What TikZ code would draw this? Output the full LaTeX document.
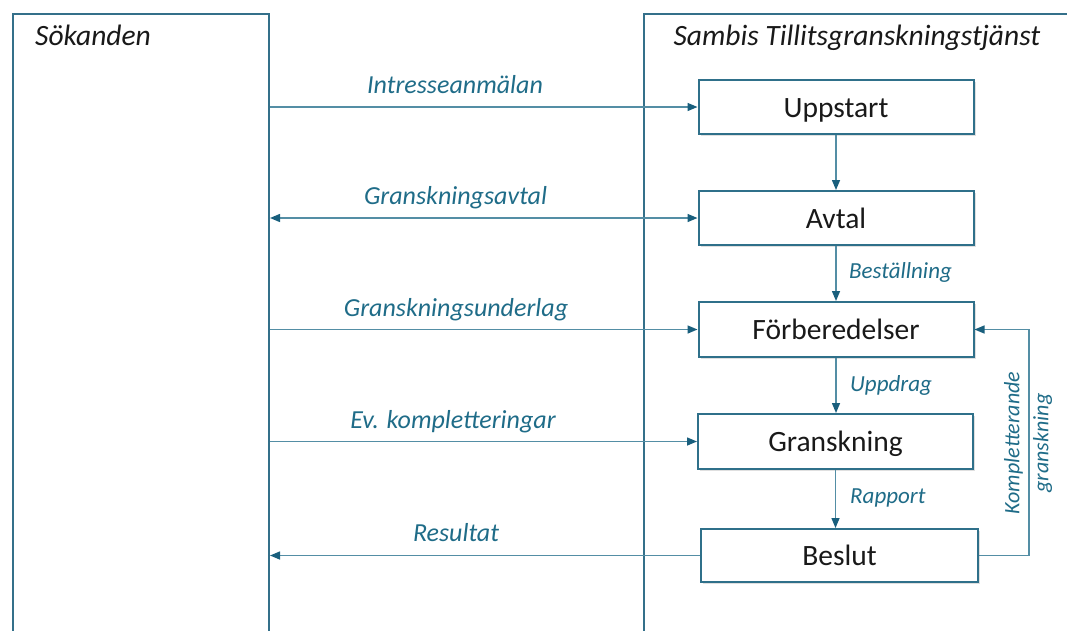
\documentclass[tikz,border=0pt]{standalone}
\usepackage{fontspec}
\setmainfont{Carlito}
\usetikzlibrary{arrows.meta,shadows,calc}
\definecolor{tealtxt}{RGB}{31,108,136}
\definecolor{tealline}{RGB}{84,142,165}
\definecolor{tealdark}{RGB}{25,95,125}
\definecolor{boxline}{RGB}{47,112,138}
\definecolor{laneline}{RGB}{52,112,138}
\begin{document}
\begin{tikzpicture}[x=1pt,y=-1pt,
  lane/.style={draw=laneline, line width=2pt, fill=white, anchor=north west, inner sep=0pt},
  stepbox/.style={draw=boxline, line width=2pt, fill=white, minimum width=275pt, minimum height=54pt,
    inner sep=0pt, text height=20pt, text depth=0pt, font=\fontsize{29.5}{34}\selectfont, text=black!90,
    drop shadow={opacity=0.25, shadow xshift=2pt, shadow yshift=-2pt}},
  head/.style={font=\fontsize{29.5}{34}\selectfont\itshape, text=black!90, inner sep=0pt},
  lbl/.style={font=\fontsize{26}{30}\selectfont\itshape, text=tealtxt, inner sep=0pt, anchor=base},
  vlbl/.style={font=\fontsize{23}{27}\selectfont\itshape, text=tealtxt, inner sep=0pt, anchor=base west},
  arr/.style={draw=tealline, line width=1.4pt, -{Triangle[length=10pt,width=8pt,color=tealdark]}},
  arrboth/.style={draw=tealline, line width=1.4pt, {Triangle[length=10pt,width=8pt,color=tealdark]}-{Triangle[length=10pt,width=8pt,color=tealdark]}}
]
\useasboundingbox (0,0) rectangle (1067,630);
\clip (0,0) rectangle (1067,630);

% lanes
\node[lane, minimum width=256pt, minimum height=640pt] (sok) at (12,13) {};
\node[lane, minimum width=450pt, minimum height=640pt] (sam) at (643,13) {};
\node[head, anchor=base west] (sokh) at (35,45) {Sökanden};
\node[head, anchor=base] (samh) at (857,45) {Sambis Tillitsgranskningstjänst};

% steps
\node[stepbox] (up) at (836,107) {Uppstart};
\node[stepbox] (av) at (836,218) {Avtal};
\node[stepbox, minimum height=55pt] (fb) at (836,329.5) {Förberedelser};
\node[stepbox, minimum height=55pt] (gr) at (835.5,441.5) {Granskning};
\node[stepbox, minimum width=277pt, minimum height=53pt] (be) at (839.5,555.5) {Beslut};

% vertical flow
\draw[arr] (up.south) -- (up.south |- av.north);
\draw[arr] (av.south) -- (av.south |- fb.north);
\draw[arr] (fb.south) -- (fb.south |- gr.north);
\draw[arr] (gr.south) -- (gr.south |- be.north);
\node[vlbl] (lbest) at (849,278) {Beställning};
\node[vlbl] (lupp) at (850,391) {Uppdrag};
\node[vlbl] (lrap) at (850,503) {Rapport};

% feedback loop
\coordinate (kx) at (1029,0);
\draw[arr] (be.east) -| (kx |- fb.east) -- (fb.east);
\node[font=\fontsize{22}{29}\selectfont\itshape, text=tealtxt, rotate=90, align=center, inner sep=0pt] (lkomp) at (1028,443) {Kompletterande\\granskning};

% horizontal messages
\draw[arr] (sok.east |- up.west) -- (up.west);
\draw[arrboth] (sok.east |- av.west) -- (av.west);
\draw[arr] (sok.east |- fb.west) -- (fb.west);
\draw[arr] (sok.east |- gr.west) -- (gr.west);
\draw[arr] (be.west) -- (sok.east |- be.west);

\node[lbl] (l1) at (455,93) {Intresseanmälan};
\node[lbl] (l2) at (455.5,204) {Granskningsavtal};
\node[lbl] (l3) at (456,316) {Granskningsunderlag};
\node[lbl] (l4) at (453,428) {Ev. kompletteringar};
\node[lbl] (l5) at (456,541) {Resultat};
\end{tikzpicture}
\end{document}
